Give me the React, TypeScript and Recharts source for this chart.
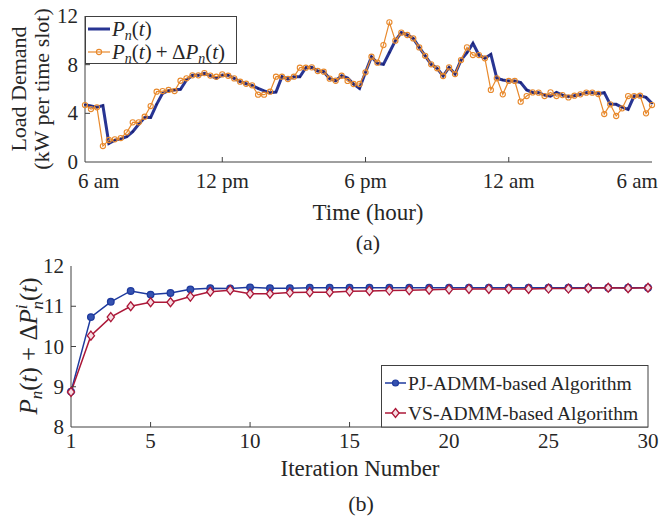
import React from 'react';
import { LineChart, Line, XAxis, YAxis } from 'recharts';

// ---------- data (a) ----------
const slots = [
  0, 1, 2, 3, 4, 5, 6, 7, 8, 9, 10, 11, 12, 13, 14, 15, 16, 17, 18, 19, 20, 21, 22, 23,
  24, 25, 26, 27, 28, 29, 30, 31, 32, 33, 34, 35, 36, 37, 38, 39, 40, 41, 42, 43, 44, 45, 46, 47,
  48, 49, 50, 51, 52, 53, 54, 55, 56, 57, 58, 59, 60, 61, 62, 63, 64, 65, 66, 67, 68, 69, 70, 71,
  72, 73, 74, 75, 76, 77, 78, 79, 80, 81, 82, 83, 84, 85, 86, 87, 88, 89, 90, 91, 92, 93, 94, 95,
];
const loadP = [
  4.7, 4.6, 4.5, 4.63, 1.53, 1.8, 1.9, 2.08, 2.5, 3.1, 3.66, 3.66,
  4.74, 5.64, 5.86, 5.92, 5.97, 6.74, 7.12, 7.12, 7.28, 7.1, 6.88, 7.15,
  7.12, 6.87, 6.6, 6.43, 6.3, 6.05, 5.85, 5.7, 5.75, 7.01, 6.82, 7.0,
  7.0, 7.75, 7.78, 7.48, 7.42, 6.85, 6.68, 7.09, 6.9, 6.41, 6.05, 7.37,
  8.65, 8.11, 8.03, 9.0, 9.97, 10.63, 10.44, 10.16, 9.42, 8.73, 8.03, 7.7,
  7.07, 7.78, 7.23, 8.38, 8.98, 9.75, 8.79, 8.52, 8.85, 6.88, 6.74, 6.66,
  6.66, 6.52, 5.92, 5.72, 5.7, 5.5, 5.42, 5.72, 5.5, 5.37, 5.45, 5.56,
  5.7, 5.7, 5.62, 5.7, 4.74, 4.74, 4.49, 4.33, 5.42, 5.45, 5.31, 4.82,
];
const loadPdP = [
  4.68, 4.35, 4.49, 1.31, 1.81, 1.86, 1.97, 2.44, 3.26, 3.26, 3.72, 4.6,
  5.78, 5.83, 5.92, 5.83, 6.68, 6.88, 7.12, 7.12, 7.31, 7.1, 7.01, 7.2,
  7.09, 6.87, 6.6, 6.43, 6.3, 5.53, 5.53, 5.78, 7.01, 7.01, 6.82, 7.01,
  7.75, 7.75, 7.78, 7.48, 7.42, 6.85, 6.68, 7.09, 6.66, 6.41, 6.41, 7.37,
  8.65, 8.16, 9.61, 11.48, 9.97, 10.63, 10.44, 10.16, 9.42, 8.73, 8.03, 7.7,
  7.07, 7.78, 7.23, 8.38, 9.42, 8.79, 8.79, 8.52, 5.92, 6.88, 5.56, 6.66,
  6.66, 4.96, 5.42, 5.72, 5.7, 5.42, 5.72, 5.42, 5.5, 5.31, 5.45, 5.56,
  5.7, 5.7, 5.59, 3.94, 4.74, 3.78, 4.41, 5.42, 5.42, 5.45, 4.0, 4.68,
];
const topXTicks = [2.3, 23, 47, 71, 92.5];
const topXLabels = ['6 am', '12 pm', '6 pm', '12 am', '6 am'];
const topXMarks = [23, 47, 71];
const topYTicks = [0, 4, 8, 12];
const topYMarks = [4, 8];

// ---------- data (b) ----------
const iterations = [
  1, 2, 3, 4, 5, 6, 7, 8, 9, 10, 11, 12, 13, 14, 15,
  16, 17, 18, 19, 20, 21, 22, 23, 24, 25, 26, 27, 28, 29, 30,
];
const pjAdmm = [
  8.88, 10.73, 11.11, 11.38, 11.29, 11.33, 11.42, 11.45, 11.44, 11.47, 11.45, 11.45, 11.46, 11.46, 11.46,
  11.46, 11.46, 11.46, 11.46, 11.46, 11.46, 11.46, 11.46, 11.46, 11.46, 11.46, 11.46, 11.46, 11.46, 11.46,
];
const vsAdmm = [
  8.87, 10.27, 10.73, 11.0, 11.1, 11.1, 11.24, 11.36, 11.4, 11.31, 11.31, 11.34, 11.35, 11.35, 11.37,
  11.38, 11.39, 11.4, 11.41, 11.42, 11.43, 11.43, 11.43, 11.43, 11.44, 11.44, 11.45, 11.46, 11.45, 11.46,
];
const botXTicks = [1, 5, 10, 15, 20, 25, 30];
const botXMarks = [5, 10, 15, 20, 25];
const botYTicks = [8, 9, 10, 11, 12];
const botYMarks = [9, 10, 11];

const topData = slots.map((s, i) => ({ slot: s, p: loadP[i], pd: loadPdP[i] }));
const botData = iterations.map((k, i) => ({ iter: k, pj: pjAdmm[i], vs: vsAdmm[i] }));

const FONT = '"Liberation Serif", "Times New Roman", serif';
const AXIS = '#404040';
const TXT = '#262626';
const NAVY = '#283593';
const ORANGE = '#E8892C';
const BLUE = '#1E3A9E';
const RED = '#AC1838';

const TICK_FS = 21;

const XTick = (labels: string[] | null, values: number[], marks: number[], dir: number, off: number) =>
  (props: any) => {
    const { x, y, payload } = props;
    const v = payload.value;
    const i = values.indexOf(v);
    const label = labels ? labels[i] : String(v);
    return (
      <g>
        {marks.includes(v) && <line x1={x} x2={x} y1={y} y2={y + dir * 5} stroke={AXIS} strokeWidth={1} />}
        {off !== 0 && (
          <text x={x} y={y + off} textAnchor="middle" fontFamily={FONT} fontSize={TICK_FS} fill={TXT}>
            {label}
          </text>
        )}
      </g>
    );
  };

const YTick = (marks: number[], dir: number, showLabel: boolean) => (props: any) => {
  const { x, y, payload } = props;
  const v = payload.value;
  return (
    <g>
      {marks.includes(v) && <line x1={x} x2={x + dir * 5} y1={y} y2={y} stroke={AXIS} strokeWidth={1} />}
      {showLabel && (
        <text x={x - 7} y={y + 7} textAnchor="end" fontFamily={FONT} fontSize={TICK_FS} fill={TXT}>
          {v}
        </text>
      )}
    </g>
  );
};

const Diamond = (props: any) => {
  const { cx, cy, index } = props;
  if (cx == null || cy == null) return <g key={index} />;
  return (
    <path
      key={index}
      d={`M${cx},${cy - 4.5} L${cx + 3.6},${cy} L${cx},${cy + 4.5} L${cx - 3.6},${cy} Z`}
      fill="#f5dde3"
      stroke={RED}
      strokeWidth={1.3}
    />
  );
};

const axisLine = { stroke: AXIS, strokeWidth: 1 };

export default function App() {
  return (
    <div style={{ position: 'absolute', left: 0, top: 0, width: 660, height: 519, background: '#fff', overflow: 'hidden' }}>
      <div style={{ position: 'absolute', left: 0, top: 0 }}>
        <LineChart width={660} height={250} data={topData} margin={{ top: 16, right: 8, left: 45, bottom: 58 }}>
          <XAxis
            dataKey="slot"
            type="number"
            domain={[0, 95]}
            ticks={topXTicks}
            interval={0}
            height={30}
            tickSize={0}
            tickMargin={0}
            tickLine={false}
            axisLine={axisLine}
            tick={XTick(topXLabels, topXTicks, topXMarks, -1, 26)}
          />
          <XAxis
            xAxisId="top"
            orientation="top"
            type="number"
            domain={[0, 95]}
            ticks={topXMarks}
            interval={0}
            height={0}
            tickSize={0}
            tickMargin={0}
            tickLine={false}
            axisLine={axisLine}
            tick={XTick(null, topXMarks, topXMarks, 1, 0)}
          />
          <YAxis
            type="number"
            domain={[0, 12]}
            ticks={topYTicks}
            interval={0}
            width={40}
            tickSize={0}
            tickMargin={0}
            tickLine={false}
            axisLine={axisLine}
            tick={YTick(topYMarks, 1, true)}
          />
          <YAxis
            yAxisId="right"
            orientation="right"
            type="number"
            domain={[0, 12]}
            ticks={topYTicks}
            interval={0}
            width={0}
            tickSize={0}
            tickMargin={0}
            tickLine={false}
            axisLine={axisLine}
            tick={YTick(topYMarks, -1, false)}
          />
          <Line
            dataKey="p"
            type="linear"
            stroke={NAVY}
            strokeWidth={3}
            dot={{ r: 1.1, fill: '#1a1f6e', stroke: 'none' }}
            isAnimationActive={false}
          />
          <Line
            dataKey="pd"
            type="linear"
            stroke={ORANGE}
            strokeWidth={1.2}
            dot={{ r: 2.6, fill: 'none', stroke: ORANGE, strokeWidth: 1.1 }}
            isAnimationActive={false}
          />
        </LineChart>
      </div>

      <div style={{ position: 'absolute', left: 0, top: 250 }}>
        <LineChart width={660} height={240} data={botData} margin={{ top: 16, right: 12, left: 31, bottom: 33 }}>
          <XAxis
            dataKey="iter"
            type="number"
            domain={[1, 30]}
            ticks={botXTicks}
            interval={0}
            height={30}
            tickSize={0}
            tickMargin={0}
            tickLine={false}
            axisLine={axisLine}
            tick={XTick(null, botXTicks, botXMarks, -1, 21)}
          />
          <XAxis
            xAxisId="top"
            orientation="top"
            type="number"
            domain={[1, 30]}
            ticks={botXMarks}
            interval={0}
            height={0}
            tickSize={0}
            tickMargin={0}
            tickLine={false}
            axisLine={axisLine}
            tick={XTick(null, botXMarks, botXMarks, 1, 0)}
          />
          <YAxis
            type="number"
            domain={[8, 12]}
            ticks={botYTicks}
            interval={0}
            width={40}
            tickSize={0}
            tickMargin={0}
            tickLine={false}
            axisLine={axisLine}
            tick={YTick(botYMarks, 1, true)}
          />
          <YAxis
            yAxisId="right"
            orientation="right"
            type="number"
            domain={[8, 12]}
            ticks={botYTicks}
            interval={0}
            width={0}
            tickSize={0}
            tickMargin={0}
            tickLine={false}
            axisLine={axisLine}
            tick={YTick(botYMarks, -1, false)}
          />
          <Line
            dataKey="pj"
            type="linear"
            stroke={BLUE}
            strokeWidth={1.5}
            dot={{ r: 3.3, fill: '#3552b0', stroke: BLUE, strokeWidth: 1.3 }}
            isAnimationActive={false}
          />
          <Line
            dataKey="vs"
            type="linear"
            stroke={RED}
            strokeWidth={1.5}
            dot={<Diamond />}
            isAnimationActive={false}
          />
        </LineChart>
      </div>

      <svg
        width={660}
        height={519}
        style={{ position: 'absolute', left: 0, top: 0, pointerEvents: 'none' }}
        fontFamily={FONT}
        fill={TXT}
      >
        {/* (a) labels */}
        <text transform="translate(26,89) rotate(-90)" textAnchor="middle" fontSize={22}>Load Demand</text>
        <text transform="translate(49,89) rotate(-90)" textAnchor="middle" fontSize={22}>(kW per time slot)</text>
        <text x={368} y={220} textAnchor="middle" fontSize={23}>Time (hour)</text>
        <text x={368} y={250} textAnchor="middle" fontSize={22}>(a)</text>

        {/* (a) legend */}
        <rect x={85.5} y={16.5} width={151} height={47} fill="#fff" stroke={AXIS} strokeWidth={1} />
        <line x1={88} x2={110} y1={29} y2={29} stroke={NAVY} strokeWidth={3} />
        <text x={112} y={36} fontSize={21}>
          <tspan fontStyle="italic">P</tspan>
          <tspan fontStyle="italic" fontSize={14} dy={4}>n</tspan>
          <tspan dy={-4}>(</tspan>
          <tspan fontStyle="italic">t</tspan>
          <tspan>)</tspan>
        </text>
        <line x1={88} x2={110} y1={52} y2={52} stroke={ORANGE} strokeWidth={1.2} />
        <circle cx={99} cy={52} r={2.6} fill="none" stroke={ORANGE} strokeWidth={1.1} />
        <text x={112} y={59} fontSize={21}>
          <tspan fontStyle="italic">P</tspan>
          <tspan fontStyle="italic" fontSize={14} dy={4}>n</tspan>
          <tspan dy={-4}>(</tspan>
          <tspan fontStyle="italic">t</tspan>
          <tspan>{')\u2009+\u2009Δ'}</tspan>
          <tspan fontStyle="italic">P</tspan>
          <tspan fontStyle="italic" fontSize={14} dy={4}>n</tspan>
          <tspan dy={-4}>(</tspan>
          <tspan fontStyle="italic">t</tspan>
          <tspan>)</tspan>
        </text>

        {/* (b) labels */}
        <text transform="translate(37,346) rotate(-90)" textAnchor="middle" fontSize={25}>
          <tspan fontStyle="italic">P</tspan>
          <tspan fontStyle="italic" fontSize={17} dy={5}>n</tspan>
          <tspan dy={-5}>(</tspan>
          <tspan fontStyle="italic">t</tspan>
          <tspan>) + Δ</tspan>
          <tspan fontStyle="italic">P</tspan>
          <tspan fontStyle="italic" fontSize={17} dy={-10}>i</tspan>
          <tspan fontStyle="italic" fontSize={17} dx={-5} dy={16}>n</tspan>
          <tspan dy={-6}>(</tspan>
          <tspan fontStyle="italic">t</tspan>
          <tspan>)</tspan>
        </text>
        <text x={360} y={476} textAnchor="middle" fontSize={23}>Iteration Number</text>
        <text x={361} y={511} textAnchor="middle" fontSize={22}>(b)</text>

        {/* (b) legend */}
        <rect x={381.5} y={365.5} width={266.5} height={61.5} fill="#fff" stroke={AXIS} strokeWidth={1} />
        <line x1={385} x2={406} y1={383} y2={383} stroke={BLUE} strokeWidth={1.5} />
        <circle cx={395.5} cy={383} r={3} fill="#3552b0" stroke={BLUE} strokeWidth={1.2} />
        <text x={408} y={390} fontSize={19.5}>PJ-ADMM-based Algorithm</text>
        <line x1={385} x2={406} y1={413} y2={413} stroke={RED} strokeWidth={1.5} />
        <path d="M395.5,408.5 L399.1,413 L395.5,417.5 L391.9,413 Z" fill="#f5dde3" stroke={RED} strokeWidth={1.3} />
        <text x={408} y={420} fontSize={19.5}>VS-ADMM-based Algorithm</text>
      </svg>
    </div>
  );
}
